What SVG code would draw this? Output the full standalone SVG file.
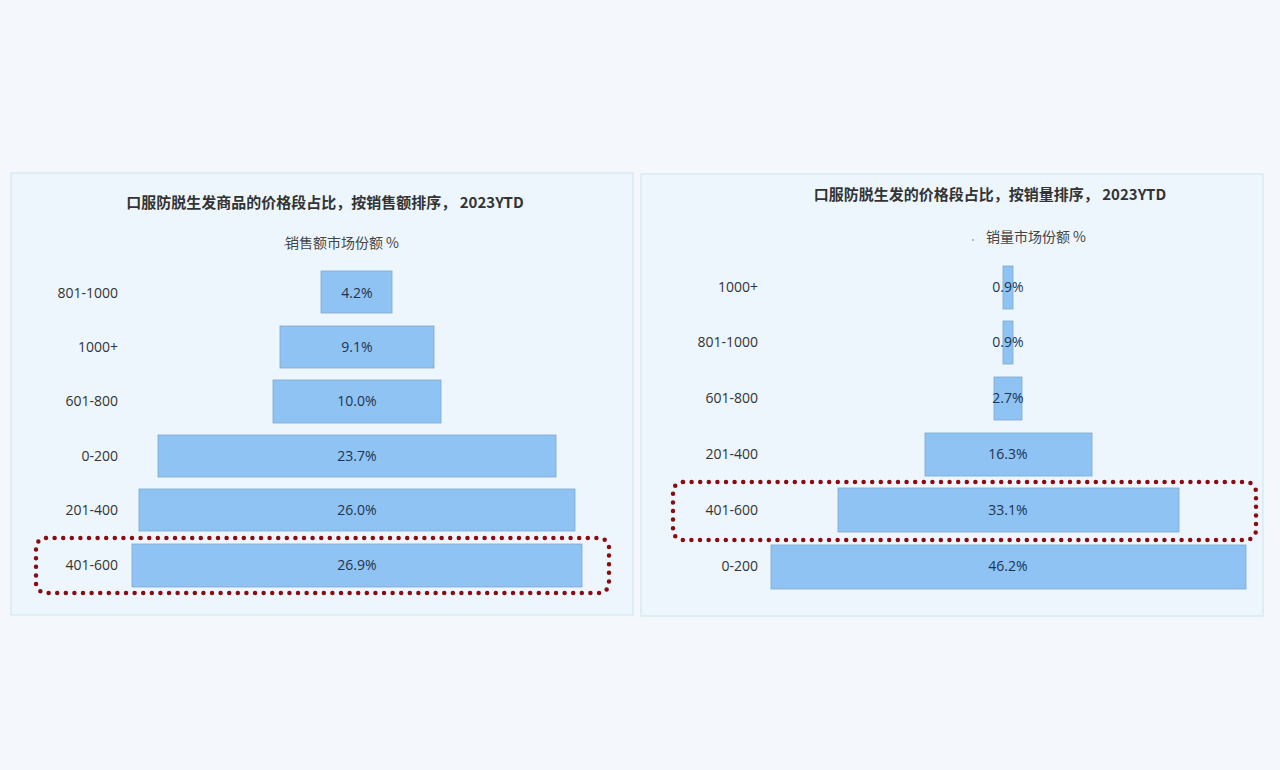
<svg xmlns="http://www.w3.org/2000/svg" width="1280" height="770" viewBox="0 0 1280 770">
<style>
.panel{fill:#edf6fd;stroke:#cfe3ee;stroke-width:1}
.bar{fill:#8fc3f3;stroke:#7fa7cc;stroke-width:0.8}
.t{font-family:"Microsoft YaHei","Noto Sans CJK SC",sans-serif;font-size:15px;font-weight:bold;fill:#333;text-anchor:middle}
.s{font-family:"Noto Sans CJK SC",sans-serif;font-size:14px;fill:#444;text-anchor:middle}
.lab{font-family:"Open Sans","Noto Sans",sans-serif;font-size:14px;fill:#333;text-anchor:end}
.v{font-family:"Open Sans","Noto Sans",sans-serif;font-size:14px;fill:#1d3550;text-anchor:middle}
.dot{fill:none;stroke:#8b0b12;stroke-width:4.5;stroke-linecap:round;stroke-dasharray:0 8.6}
</style>
<rect width="1280" height="770" fill="#f4f8fc"/>
<g id="left-panel">
<rect class="panel" x="11" y="173" width="622" height="442"/>
<text class="t" x="325" y="208">口服防脱生发商品的价格段占比，按销售额排序，    2023YTD</text>
<text class="s" x="342" y="248">销售额市场份额 %</text>
<circle cx="285" cy="245" r="1" fill="#aaa"/>
</g>
<g id="l-801"><rect class="bar" x="321" y="271" width="71" height="42"/><text class="lab" x="118" y="298">801-1000</text><text class="v" x="357" y="298">4.2%</text></g>
<g id="l-1000p"><rect class="bar" x="280" y="326" width="154" height="42"/><text class="lab" x="118" y="352">1000+</text><text class="v" x="357" y="352">9.1%</text></g>
<g id="l-601"><rect class="bar" x="273" y="380" width="168" height="43"/><text class="lab" x="118" y="406">601-800</text><text class="v" x="357" y="406">10.0%</text></g>
<g id="l-0"><rect class="bar" x="158" y="435" width="398" height="42"/><text class="lab" x="118" y="461">0-200</text><text class="v" x="357" y="461">23.7%</text></g>
<g id="l-201"><rect class="bar" x="139" y="489" width="436" height="42"/><text class="lab" x="118" y="515">201-400</text><text class="v" x="357" y="515">26.0%</text></g>
<g id="l-401"><rect class="bar" x="132" y="544" width="450" height="43"/><text class="lab" x="118" y="570">401-600</text><text class="v" x="357" y="570">26.9%</text></g>
<g id="right-panel">
<rect class="panel" x="641" y="174" width="622" height="442"/>
<text class="t" x="990" y="200">口服防脱生发的价格段占比，按销量排序，    2023YTD</text>
<text class="s" x="1036" y="242">销量市场份额 %</text>
<circle cx="973" cy="240" r="1" fill="#aaa"/>
</g>
<g id="r-1000p"><rect class="bar" x="1003" y="266" width="10" height="43"/><text class="lab" x="758" y="292">1000+</text><text class="v" x="1008" y="292">0.9%</text></g>
<g id="r-801"><rect class="bar" x="1003" y="321" width="10" height="43"/><text class="lab" x="758" y="347">801-1000</text><text class="v" x="1008" y="347">0.9%</text></g>
<g id="r-601"><rect class="bar" x="994" y="377" width="28" height="43"/><text class="lab" x="758" y="403">601-800</text><text class="v" x="1008" y="403">2.7%</text></g>
<g id="r-201"><rect class="bar" x="925" y="433" width="167" height="43"/><text class="lab" x="758" y="459">201-400</text><text class="v" x="1008" y="459">16.3%</text></g>
<g id="r-401"><rect class="bar" x="838" y="488" width="341" height="44"/><text class="lab" x="758" y="515">401-600</text><text class="v" x="1008" y="515">33.1%</text></g>
<g id="r-0"><rect class="bar" x="771" y="545" width="475" height="44"/><text class="lab" x="758" y="571">0-200</text><text class="v" x="1008" y="571">46.2%</text></g>
<g id="connectors">
<rect class="dot" x="36" y="538" width="573" height="55" rx="10"/>
<rect class="dot" x="673" y="482" width="583" height="58" rx="10"/>
</g>
</svg>
